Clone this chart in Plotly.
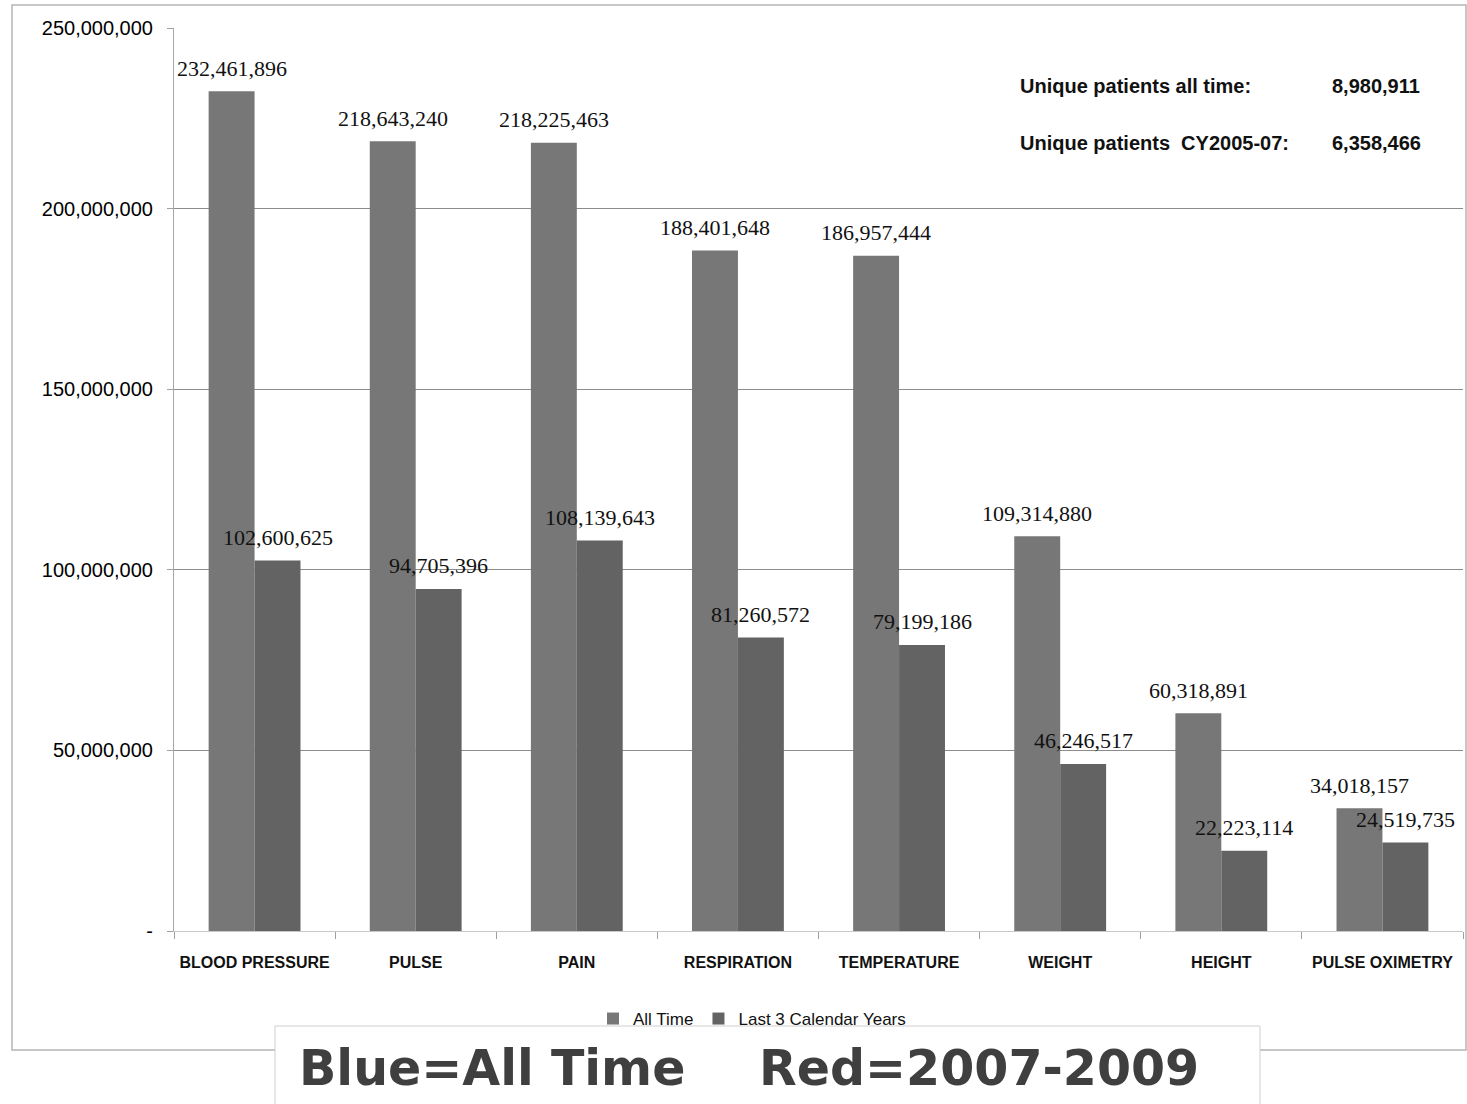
import plotly.graph_objects as go

# Vital-sign observation counts
categories = ["BLOOD PRESSURE", "PULSE", "PAIN", "RESPIRATION", "TEMPERATURE",
              "WEIGHT", "HEIGHT", "PULSE OXIMETRY"]
all_time = [232461896, 218643240, 218225463, 188401648, 186957444,
            109314880, 60318891, 34018157]
last_3_years = [102600625, 94705396, 108139643, 81260572, 79199186,
                46246517, 22223114, 24519735]

y_tick_values = [0, 50000000, 100000000, 150000000, 200000000, 250000000]
y_tick_labels = ["-", "50,000,000", "100,000,000", "150,000,000",
                 "200,000,000", "250,000,000"]

patient_labels = ["Unique patients all time:", "Unique patients  CY2005-07:"]
patient_counts = ["8,980,911", "6,358,466"]

W, H = 1467, 1104
L, R, T, B = 174, 4, 28, 173
PW, PH = W - L - R, H - T - B


def px(x):
    return (x - L) / PW


def py(y):
    return (H - B - y) / PH


sans = "Liberation Sans, Arial, sans-serif"
serif = "Liberation Serif, Times New Roman, serif"

fig = go.Figure()
fig.add_bar(x=categories, y=all_time, name="All Time",
            marker=dict(color="#777777", line=dict(width=0)))
fig.add_bar(x=categories, y=last_3_years, name="Last 3 Calendar Years",
            marker=dict(color="#636363", line=dict(width=0)))

annotations = []
for cat, a, b in zip(categories, all_time, last_3_years):
    annotations.append(dict(x=cat, y=a, xref="x", yref="y", text=f"{a:,}",
                            showarrow=False, xshift=-23, yshift=23,
                            font=dict(family=serif, size=22, color="#111")))
    annotations.append(dict(x=cat, y=b, xref="x", yref="y", text=f"{b:,}",
                            showarrow=False, xshift=23, yshift=23,
                            font=dict(family=serif, size=22, color="#111")))

for i, (lab, cnt) in enumerate(zip(patient_labels, patient_counts)):
    yy = py(86 + 57 * i)
    annotations.append(dict(x=px(1018), y=yy, xref="paper", yref="paper", text=lab,
                            showarrow=False, xanchor="left", yanchor="middle",
                            font=dict(family=sans, size=20, color="#111", weight="bold")))
    annotations.append(dict(x=px(1330), y=yy, xref="paper", yref="paper", text=cnt,
                            showarrow=False, xanchor="left", yanchor="middle",
                            font=dict(family=sans, size=20, color="#111", weight="bold")))

# Colour key caption in the bottom box
for txt, x0 in [("Blue=All Time", 297), ("Red=2007-2009", 757)]:
    annotations.append(dict(x=px(x0), y=py(1068), xref="paper", yref="paper", text=txt,
                            showarrow=False, xanchor="left", yanchor="middle",
                            font=dict(family="DejaVu Sans, sans-serif", size=49,
                                      color="#3f3f3f", weight="bold")))

shapes = [
    # outer chart frame
    dict(type="rect", xref="paper", yref="paper",
         x0=px(12), x1=px(1466), y0=py(1050), y1=py(5),
         line=dict(color="#b5b5b5", width=1.5), fillcolor="rgba(0,0,0,0)", layer="below"),
    # caption box
    dict(type="rect", xref="paper", yref="paper",
         x0=px(275), x1=px(1260), y0=py(1110), y1=py(1026),
         line=dict(color="#cfcfcf", width=1), fillcolor="white", layer="above"),
]

fig.update_layout(
    width=W, height=H, autosize=False,
    margin=dict(l=L, r=R, t=T, b=B, pad=0),
    paper_bgcolor="white", plot_bgcolor="white",
    barmode="group", bargap=0.43, bargroupgap=0,
    showlegend=True,
    legend=dict(orientation="h", x=px(752), xanchor="center", y=py(1001), yanchor="top",
                font=dict(family=sans, size=17, color="#111"),
                bgcolor="rgba(0,0,0,0)", itemwidth=30, tracegroupgap=0),
    annotations=annotations,
    shapes=shapes,
    xaxis=dict(showgrid=False, showline=True, linecolor="#c8c8c8", linewidth=1,
               ticks="outside", tickson="boundaries", ticklen=7, tickcolor="#a0a0a0",
               tickangle=0, automargin=False, ticklabelstandoff=17,
               tickfont=dict(family=sans, size=16, color="#111", weight="bold")),
    yaxis=dict(range=[0, 250000000], tickvals=y_tick_values, ticktext=y_tick_labels,
               showgrid=True, gridcolor="#8c8c8c", gridwidth=1, zeroline=False,
               showline=True, linecolor="#a8a8a8", linewidth=1, automargin=False,
               ticks="outside", ticklen=6, tickcolor="#a0a0a0", ticklabelstandoff=10,
               tickfont=dict(family=sans, size=20, color="#000")),
)

fig.write_html("out.html")
